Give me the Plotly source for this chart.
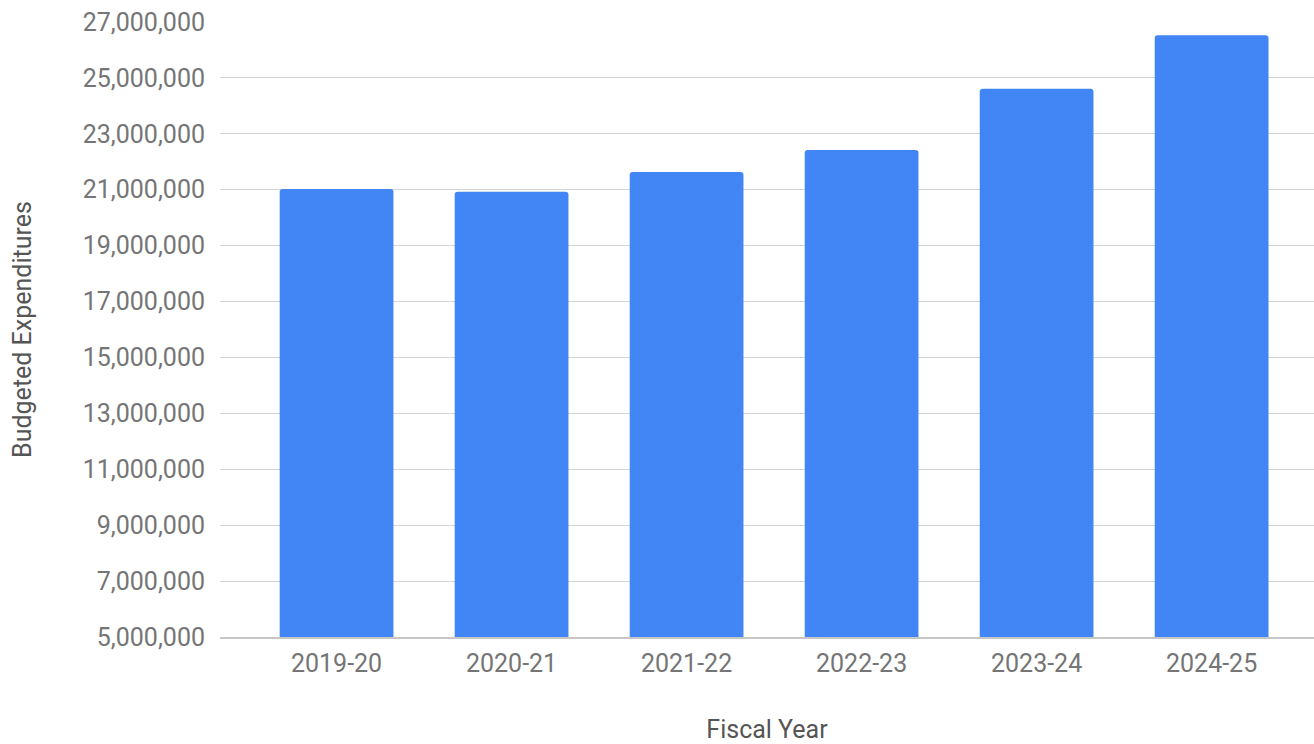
import plotly.graph_objects as go

fiscal_years = ["2019-20", "2020-21", "2021-22", "2022-23", "2023-24", "2024-25"]
budgeted_expenditures = [21030000, 20930000, 21630000, 22420000, 24610000, 26530000]

fig = go.Figure(
    go.Bar(
        x=fiscal_years,
        y=budgeted_expenditures,
        marker=dict(color="#4285F4", cornerradius=3, line=dict(width=0)),
    )
)

fig.update_layout(
    width=1314,
    height=744,
    margin=dict(l=220, r=0, t=22, b=107),
    paper_bgcolor="white",
    plot_bgcolor="white",
    font=dict(family="Roboto", size=25, color="#757575"),
    bargap=0.35,
    showlegend=False,
)

fig.update_xaxes(
    type="category",
    range=[-0.666, 5.585],
    showgrid=False,
    showline=True,
    linecolor="#c6c6c6",
    linewidth=2,
    ticks="",
    ticklabelstandoff=3,
    tickfont=dict(size=25, color="#757575"),
    title=dict(text="Fiscal Year", font=dict(size=25, color="#555555"), standoff=43),
)

fig.update_yaxes(
    range=[5000000, 27000000],
    dtick=2000000,
    tick0=5000000,
    tickformat=",",
    showgrid=True,
    gridcolor="#d4d4d4",
    gridwidth=1,
    zeroline=False,
    ticks="",
    ticklabelstandoff=14,
    tickfont=dict(size=25, color="#757575"),
    title=dict(text="Budgeted Expenditures", font=dict(size=25, color="#555555"), standoff=44),
)

fig.write_html("out.html")
